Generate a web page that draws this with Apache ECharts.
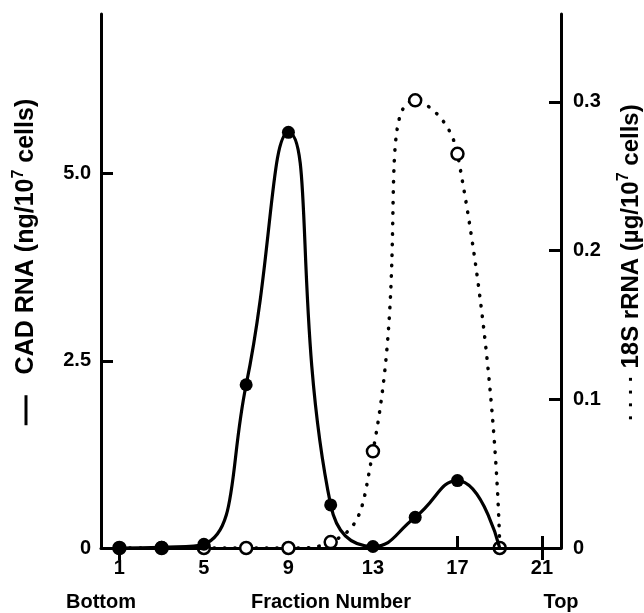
<!DOCTYPE html>
<html><head><meta charset="utf-8">
<script src="https://cdn.jsdelivr.net/npm/echarts@6/dist/echarts.min.js"></script>
<style>html,body{margin:0;padding:0;background:#fff}#c{width:644px;height:613px}</style>
</head><body><div id="c"></div>
<script>
// ---- data ----
const fractions = [1, 3, 5, 7, 9, 11, 13, 15, 17, 19];
const cadRNA = [0, 0.01, 0.05, 2.18, 5.55, 0.575, 0.02, 0.41, 0.90, 0];      // ng/10^7 cells (left)
const cadMarked = [true, true, true, true, true, true, true, true, true, false];
const rRNA18S = [0, 0, 0, 0, 0, 0.004, 0.065, 0.301, 0.265, 0];           // ug/10^7 cells (right)
const xTickLabels = [1, 5, 9, 13, 17, 21];
const leftTickLabels = [0, 2.5, 5.0];
const rightTickLabels = [0, 0.1, 0.2, 0.3];

// ---- axis ranges / layout ----
const X_MIN = 0.13, X_MAX = 21.9;
const LEFT_MAX = 7.13, RIGHT_MAX = 0.359;
const AXIS_GAP = [5, 11.3];   // the bottom frame line is broken here in the original
const FONT = '"Liberation Sans", Arial, sans-serif';
const LBL = { fontFamily: FONT, fontWeight: 'bold', fontSize: 20, color: '#000' };

const chart = echarts.init(document.getElementById('c'), null, { renderer: 'canvas' });

const cadData = fractions.map((f, i) => ({
  value: [f, cadRNA[i]],
  symbolSize: cadMarked[i] ? 13 : 0
}));
const rData = fractions.map((f, i) => [f, rRNA18S[i]]);

const lineBlack = { color: '#000', width: 3 };

chart.setOption({
  animation: false,
  backgroundColor: '#fff',
  grid: { left: 101, right: 83, top: 14, bottom: 65, containLabel: false, outerBoundsMode: 'none' },
  xAxis: [
    {
      type: 'value', min: X_MIN, max: X_MAX, position: 'bottom',
      axisLine: { show: false },
      axisTick: { show: true, inside: true, length: 12, lineStyle: lineBlack, customValues: [17, 21] },
      axisLabel: { ...LBL, margin: 10, customValues: xTickLabels, formatter: v => String(v) },
      splitLine: { show: false },
      name: 'Fraction Number', nameLocation: 'middle', nameGap: 44,
      nameTextStyle: { ...LBL }
    },
    {
      type: 'value', min: X_MIN, max: X_MAX, position: 'top',
      axisLine: { show: true, lineStyle: lineBlack },
      axisTick: { show: true, inside: true, length: 12, lineStyle: lineBlack, customValues: [1, 21] },
      axisLabel: { show: false },
      splitLine: { show: false }
    },
    {
      type: 'value', min: X_MIN, max: X_MAX, position: 'bottom',
      axisLine: { show: false }, axisTick: { show: false }, splitLine: { show: false },
      axisLabel: { ...LBL, margin: 44, customValues: [X_MIN, X_MAX],
        formatter: v => (v === X_MIN ? 'Bottom' : 'Top') }
    }
  ],
  yAxis: [
    {
      type: 'value', min: 0, max: LEFT_MAX, position: 'left',
      axisLine: { show: true, lineStyle: lineBlack },
      axisTick: { show: true, inside: true, length: 12, lineStyle: lineBlack, customValues: [2.5, 5.0] },
      axisLabel: { ...LBL, margin: 10, customValues: leftTickLabels,
        formatter: v => (v === 0 ? '0' : v.toFixed(1)) },
      splitLine: { show: false },
      name: '{dash| }   CAD RNA (ng/10{sup|7} cells)',
      nameLocation: 'middle', nameRotate: 90, nameGap: 60,
      nameTextStyle: {
        fontFamily: FONT, fontWeight: 'bold', fontSize: 25, color: '#000', lineHeight: 30,
        padding: [0, 0, 0, 38],
        rich: {
          dash: { width: 30, height: 3, backgroundColor: '#000' },
          sup: { fontFamily: FONT, fontWeight: 'bold', fontSize: 16, color: '#000', verticalAlign: 'top', lineHeight: 18 }
        }
      }
    },
    {
      type: 'value', min: 0, max: RIGHT_MAX, position: 'right',
      axisLine: { show: true, lineStyle: lineBlack },
      axisTick: { show: true, inside: true, length: 12, lineStyle: lineBlack, customValues: [0.1, 0.2, 0.3] },
      axisLabel: { ...LBL, margin: 12, customValues: rightTickLabels,
        formatter: v => (v === 0 ? '0' : v.toFixed(1)) },
      splitLine: { show: false },
      name: '{dots|· · · ·} 18S rRNA (µg/10{sup|7} cells)',
      nameLocation: 'middle', nameRotate: 90, nameGap: 55,
      nameTextStyle: {
        fontFamily: FONT, fontWeight: 'bold', fontSize: 24, color: '#000', lineHeight: 30,
        padding: [0, 0, 0, 37],
        rich: {
          dots: { fontFamily: FONT, fontWeight: 'bold', fontSize: 21, color: '#000' },
          sup: { fontFamily: FONT, fontWeight: 'bold', fontSize: 16, color: '#000', verticalAlign: 'top', lineHeight: 18 }
        }
      }
    }
  ],
  series: [
    {
      name: '18S rRNA', type: 'line', xAxisIndex: 0, yAxisIndex: 1,
      data: rData, smooth: 0.55,
      symbol: 'circle', symbolSize: 12,
      itemStyle: { color: '#fff', borderColor: '#000', borderWidth: 2.5 },
      lineStyle: { color: '#000', width: 3.5, type: [0.5, 10], cap: 'round' },
      z: 2
    },
    {
      name: 'CAD RNA', type: 'line', xAxisIndex: 0, yAxisIndex: 0,
      data: cadData, smooth: 0.5,
      symbol: 'circle',
      itemStyle: { color: '#000', borderColor: '#000', borderWidth: 0 },
      lineStyle: { color: '#000', width: 3.2 },
      markLine: {
        silent: true, symbol: ['none', 'none'], label: { show: false },
        lineStyle: { color: '#000', width: 3, type: 'solid' },
        data: [
          [{ coord: [X_MIN, 0] }, { coord: [AXIS_GAP[0], 0] }],
          [{ coord: [AXIS_GAP[1], 0] }, { coord: [X_MAX, 0] }]
        ]
      },
      z: 3
    }
  ]
});
</script></body></html>
